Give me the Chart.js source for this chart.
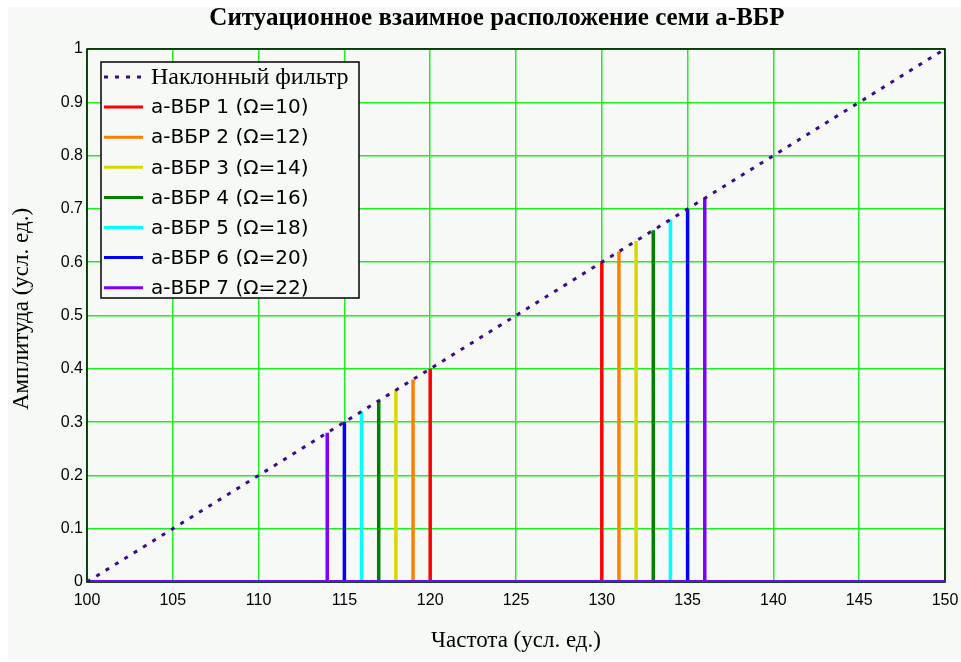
<!DOCTYPE html>
<html>
<head>
<meta charset="utf-8">
<script src="https://cdn.jsdelivr.net/npm/chart.js@4/dist/chart.umd.min.js"></script>
<style>
  body { margin: 0; background: #ffffff; }
  canvas { display: block; }
</style>
</head>
<body>
<canvas id="chart" width="961" height="662"></canvas>
<script>
// axis ranges
const xMin = 100, xMax = 150, xStep = 5;
const yMin = 0, yMax = 1, yStep = 0.1;

// sloped filter (straight line)
const filterX = [100, 150];
const filterY = [0, 1];

// seven a-FBG pairs: left and right frequency, peak amplitude
const fbgNames = ['а-ВБР 1 (Ω=10)', 'а-ВБР 2 (Ω=12)', 'а-ВБР 3 (Ω=14)', 'а-ВБР 4 (Ω=16)',
                  'а-ВБР 5 (Ω=18)', 'а-ВБР 6 (Ω=20)', 'а-ВБР 7 (Ω=22)'];
const leftFreq = [120, 119, 118, 117, 116, 115, 114];
const leftPeak = [0.40, 0.38, 0.36, 0.34, 0.32, 0.30, 0.28];
const rightFreq = [130, 131, 132, 133, 134, 135, 136];
const rightPeak = [0.60, 0.62, 0.64, 0.66, 0.68, 0.70, 0.72];
const fbgColors = ['#ff0000', '#ff8000', '#d8d800', '#008000', '#00ffff', '#0000ff', '#8000ff'];

const filterColor = '#3c0a8c';
const gridColor = '#1ef01e';
const bgColor = '#f6f9f6';

const datasets = [{
    label: 'Наклонный фильтр',
    data: filterX.map((x, i) => ({ x: x, y: filterY[i] })),
    borderColor: filterColor,
    borderWidth: 3,
    borderDash: [4, 7],
    pointRadius: 0,
    order: 0
}];

fbgNames.forEach((name, i) => {
    datasets.push({
        label: name,
        data: [
            { x: xMin, y: 0 },
            { x: leftFreq[i], y: 0 }, { x: leftFreq[i], y: leftPeak[i] }, { x: leftFreq[i], y: 0 },
            { x: rightFreq[i], y: 0 }, { x: rightFreq[i], y: rightPeak[i] }, { x: rightFreq[i], y: 0 },
            { x: xMax, y: 0 }
        ],
        borderColor: fbgColors[i],
        borderWidth: 3.5,
        pointRadius: 0,
        order: fbgNames.length - i
    });
});

// background, frame, titles and boxed legend
const decor = {
    id: 'decor',
    beforeDraw(chart) {
        const c = chart.ctx;
        c.save();
        c.fillStyle = bgColor;
        c.fillRect(8, 7, 953, 653);
        c.restore();
    },
    beforeDatasetsDraw(chart) {
        const c = chart.ctx, a = chart.chartArea;
        c.save();
        c.strokeStyle = '#000';
        c.lineWidth = 1.5;
        c.strokeRect(a.left, a.top, a.right - a.left, a.bottom - a.top);
        c.restore();
    },
    afterDraw(chart) {
        const c = chart.ctx, a = chart.chartArea;
        c.save();
        c.fillStyle = '#000';
        c.textAlign = 'center';
        c.textBaseline = 'middle';
        c.font = 'bold 25px "Liberation Serif"';
        c.fillText('Ситуационное взаимное расположение семи а-ВБР', 497, 19);
        c.font = '23px "Liberation Serif"';
        c.fillText('Частота (усл. ед.)', (a.left + a.right) / 2, 641);
        c.translate(22, 309);
        c.rotate(-Math.PI / 2);
        c.fillText('Амплитуда (усл. ед.)', 0, 0);
        c.restore();

        // legend box
        c.save();
        c.fillStyle = bgColor;
        c.fillRect(101, 62, 258, 236);
        c.strokeStyle = '#000';
        c.lineWidth = 1.5;
        c.strokeRect(101, 62, 258, 236);
        c.textAlign = 'left';
        c.textBaseline = 'middle';
        chart.data.datasets.forEach((ds, i) => {
            const y = 77 + i * 30.1;
            c.beginPath();
            c.strokeStyle = ds.borderColor;
            c.lineWidth = 3;
            c.setLineDash(ds.borderDash || []);
            c.moveTo(104, y);
            c.lineTo(143, y);
            c.stroke();
            c.setLineDash([]);
            c.fillStyle = '#000';
            c.font = i === 0 ? '24px "Liberation Serif"' : '20px "DejaVu Sans"';
            c.fillText(ds.label, 151, y + 1);
        });
        c.restore();
    }
};

new Chart(document.getElementById('chart').getContext('2d'), {
    type: 'line',
    data: { datasets: datasets },
    options: {
        responsive: false,
        animation: false,
        layout: { padding: { left: 0, top: 49, right: 16, bottom: 0 } },
        plugins: {
            legend: { display: false },
            title: { display: false },
            tooltip: { enabled: false }
        },
        elements: { line: { tension: 0 } },
        scales: {
            x: {
                type: 'linear',
                min: xMin,
                max: xMax,
                border: { display: false },
                grid: { color: gridColor, lineWidth: 1.5, drawTicks: false },
                ticks: {
                    stepSize: xStep,
                    autoSkip: false,
                    maxRotation: 0,
                    padding: 9,
                    color: '#000',
                    font: { family: 'Liberation Sans', size: 16 }
                },
                afterFit(scale) {
                    scale.height = 80;
                    scale.paddingLeft = 0;
                    scale.paddingRight = 0;
                }
            },
            y: {
                min: yMin,
                max: yMax,
                border: { display: false },
                grid: { color: gridColor, lineWidth: 1.5, drawTicks: false },
                ticks: {
                    stepSize: yStep,
                    autoSkip: false,
                    padding: 4,
                    color: '#000',
                    font: { family: 'Liberation Sans', size: 16 },
                    callback: (v) => String(Math.round(v * 10) / 10)
                },
                afterFit(scale) {
                    scale.width = 87;
                    scale.paddingTop = 0;
                    scale.paddingBottom = 0;
                }
            }
        }
    },
    plugins: [decor]
});
</script>
</body>
</html>
